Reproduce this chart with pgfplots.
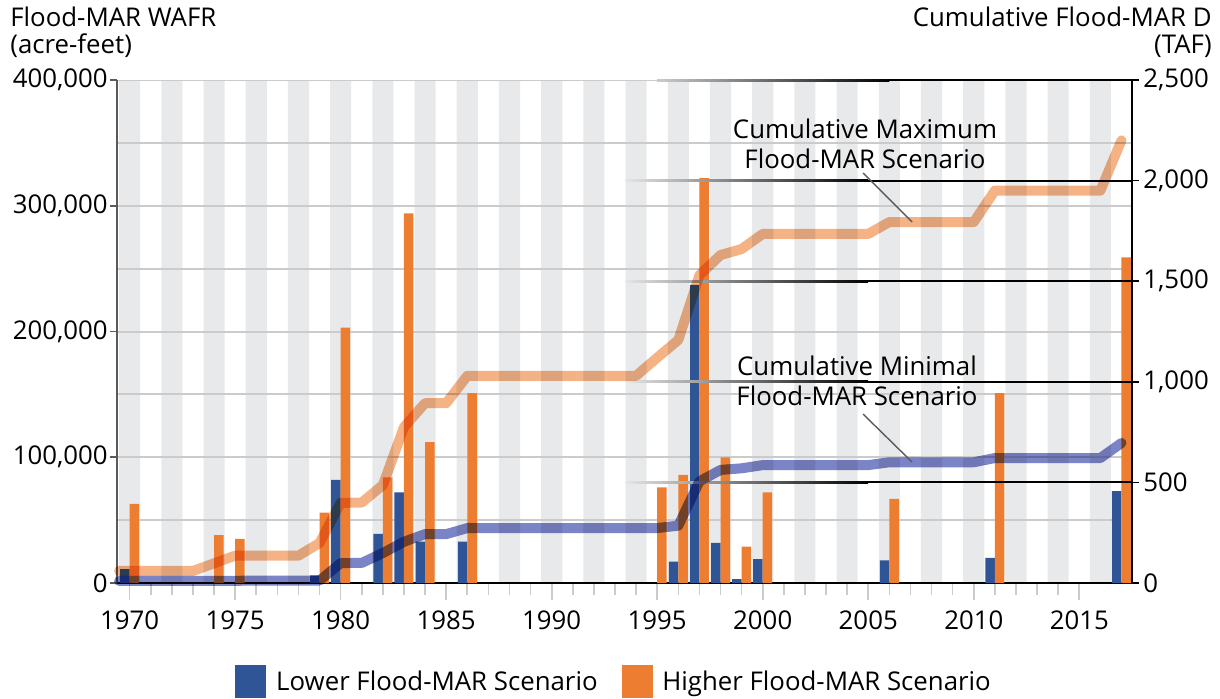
\documentclass[border=0pt]{standalone}
\usepackage{fontspec}
\setmainfont{Open Sans}
\usepackage{pgfplots}
\pgfplotsset{compat=1.18}
\definecolor{barblue}{HTML}{2F5597}
\definecolor{barorange}{HTML}{ED7D31}
\definecolor{linemax}{HTML}{F5B285}
\definecolor{linemin}{HTML}{7B84C6}
\definecolor{stripe}{HTML}{E8E9EA}
\definecolor{gridc}{HTML}{CBCBCB}
\definecolor{axgray}{HTML}{5A5A5A}
\newcommand{\lab}{\fontsize{12.9pt}{15pt}\selectfont}
\pgfplotsset{base/.style={scale only axis, width=507.5pt, height=251.5pt,
  at={(58.5pt,57.5pt)}, anchor=south west, xmin=1969.4, xmax=2017.5,
  /pgf/number format/assume math mode=true, scaled y ticks=false}}
\begin{document}
\begin{tikzpicture}
% ---------- background axis: stripes, grid, left y axis ticks and labels
\begin{axis}[base, ymin=0, ymax=400000,
  axis x line=none, axis y line*=left,
  y axis line style={axgray, line width=0.8pt, -},
  ytick={0,100000,200000,300000,400000},
  yticklabels={0,{100,000},{200,000},{300,000},{400,000}},
  tick align=outside, major tick length=3.5pt,
  ytick style={axgray, line width=0.8pt},
  yticklabel style={font=\lab, inner sep=0pt, xshift=-1pt},
]
\addplot[ybar, bar width=1, bar shift=0, fill=stripe, draw=none, forget plot] coordinates {
(1970,400000) (1972,400000) (1974,400000) (1976,400000) (1978,400000) (1980,400000)
(1982,400000) (1984,400000) (1986,400000) (1988,400000) (1990,400000) (1992,400000)
(1994,400000) (1996,400000) (1998,400000) (2000,400000) (2002,400000) (2004,400000)
(2006,400000) (2008,400000) (2010,400000) (2012,400000) (2014,400000) (2016,400000)};
\pgfplotsinvokeforeach{50000,100000,150000,200000,250000,300000,350000,400000}{
  \draw[gridc, line width=1pt] (axis cs:1969.4,#1) -- (axis cs:2017.5,#1);
}
\end{axis}
% ---------- bars and x axis
\begin{axis}[base, ymin=0, ymax=400000,
  axis x line*=bottom, axis y line*=left,
  x axis line style={black, line width=1pt, -},
  y axis line style={axgray, line width=0.8pt, -},
  xtick={1970,1975,1980,1985,1990,1995,2000,2005,2010,2015}, minor x tick num=4,
  tick align=outside, major tick length=8.5pt, minor tick length=6pt,
  xtick style={gridc, line width=0.8pt},
  minor x tick style={gridc, line width=0.8pt},
  xticklabel style={font=\lab, /pgf/number format/1000 sep={}, inner sep=0pt, yshift=-5pt},
  ytick=\empty,
  legend columns=2,
  legend style={at={(0.1163,-0.1948)}, anchor=west, draw=none, fill=none,
    inner sep=0pt, font=\lab, nodes={inner sep=0pt, text depth=0pt},
    /tikz/every odd column/.append style={column sep=5pt},
    /tikz/every even column/.append style={column sep=12pt}},
]
\addplot[ybar, bar width=0.45, bar shift=-0.225, fill=barblue, draw=none, forget plot] coordinates {
(1970,11000) (1979,6000) (1980,82000) (1982,39000) (1983,72000) (1984,33000)
(1986,33000) (1996,17000) (1997,237000) (1998,32000) (1999,3000) (2000,19000)
(2006,18000) (2011,20000) (2017,73000)};
\addplot[ybar, bar width=0.45, bar shift=0.225, fill=barorange, draw=none, forget plot] coordinates {
(1970,63000) (1974,38000) (1975,35000) (1979,56000) (1980,203000) (1982,84000)
(1983,294000) (1984,112000) (1986,151000) (1995,76000) (1996,86000) (1997,322000)
(1998,100000) (1999,29000) (2000,72000) (2006,67000) (2011,151000) (2017,259000)};
\addlegendimage{legend image code/.code={\fill[barblue] (0pt,-8pt) rectangle (15pt,8pt);}}
\addlegendentry{Lower Flood-MAR Scenario}
\addlegendimage{legend image code/.code={\fill[barorange] (0pt,-8pt) rectangle (15pt,8pt);}}
\addlegendentry{Higher Flood-MAR Scenario}
\end{axis}
% ---------- right axis: cumulative lines
\begin{axis}[base, ymin=0, ymax=2500, clip=false,
  axis x line=none, axis y line*=right,
  y axis line style={black, line width=1pt, -},
  ytick={0,500,1000,1500,2000,2500},
  yticklabels={0,500,{1,000},{1,500},{2,000},{2,500}},
  tick align=outside, major tick length=3.5pt,
  ytick style={black, line width=0.8pt},
  yticklabel style={font=\lab, inner sep=0pt, xshift=2pt},
]
\pgfplotsinvokeforeach{500,1000,1500,2000}{
  \shade[left color=gridc!50, right color=black] ([yshift=-0.5pt]axis cs:1993.5,#1) rectangle ([yshift=0.5pt]axis cs:2005,#1);
  \fill[black] ([yshift=-0.5pt]axis cs:2005,#1) rectangle ([yshift=0.5pt]axis cs:2017.5,#1);
}
\shade[left color=gridc, right color=black] ([yshift=-0.5pt]axis cs:1995,2500) rectangle ([yshift=0.5pt]axis cs:2006,2500);
\fill[black] ([yshift=-0.5pt]axis cs:2006,2500) rectangle ([yshift=0.5pt]axis cs:2017.5,2500);
\addplot[linemax, line width=5pt, line join=round, line cap=round, blend mode=multiply] coordinates {
(1969.5,60) (1970,60) (1973,60) (1974,98) (1975,136) (1978,136) (1979,199) (1980,398)
(1981,400) (1982,487) (1983,775) (1984,894) (1985,894) (1986,1030) (1994,1030)
(1995,1120) (1996,1208) (1997,1530) (1998,1630) (1999,1660) (2000,1735) (2005,1735)
(2006,1794) (2010,1794) (2011,1950) (2016,1950) (2017,2200)};
\addplot[linemin, line width=5pt, line join=round, line cap=round, blend mode=multiply] coordinates {
(1969.5,10) (1979,12) (1980,99) (1981,100) (1982,149) (1983,205) (1984,243) (1985,243)
(1986,273) (1995,273) (1996,285) (1997,505) (1998,562) (1999,570) (2000,586) (2005,586)
(2006,600) (2010,600) (2011,621) (2016,621) (2017,696)};
\end{axis}
% ---------- titles and annotations
\node[anchor=base west, inner sep=0pt, font=\lab] at (5pt,335.5pt) {Flood-MAR WAFR};
\node[anchor=base west, inner sep=0pt, font=\lab] at (5pt,322pt) {(acre-feet)};
\node[anchor=base east, inner sep=0pt, font=\lab] at (606pt,335.5pt) {Cumulative Flood-MAR D};
\node[anchor=base east, inner sep=0pt, font=\lab] at (606pt,322pt) {(TAF)};
\node[align=center, inner sep=0pt, font=\lab, text=black] at (432.5pt,277pt) {Cumulative Maximum\\Flood-MAR Scenario};
\node[align=center, inner sep=0pt, font=\lab, text=black] at (428.5pt,158.5pt) {Cumulative Minimal\\Flood-MAR Scenario};
\draw[axgray, line width=0.7pt] (431.5pt,262.5pt) -- (456pt,238pt);
\draw[axgray, line width=0.7pt] (431.5pt,142pt) -- (456pt,118pt);
\pgfresetboundingbox
\useasboundingbox (0,0) rectangle (610pt,349pt);
\end{tikzpicture}
\end{document}
